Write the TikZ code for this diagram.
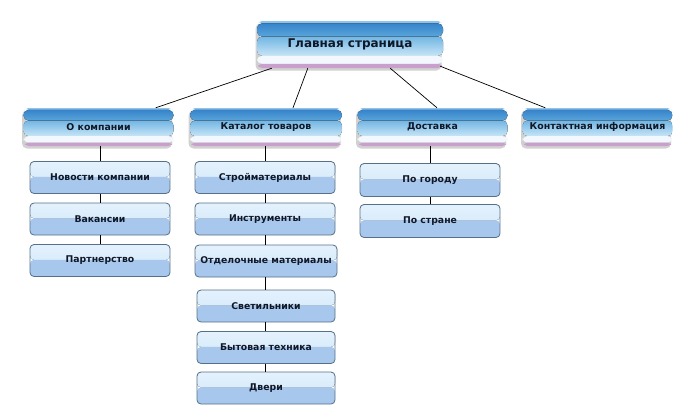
\documentclass[tikz,border=0pt]{standalone}
\usepackage{fontspec}
\setmainfont{DejaVu Sans}
\usetikzlibrary{calc,shadows}
\definecolor{hTop}{HTML}{8CC4EC}
\definecolor{hDarkA}{HTML}{3784CB}
\definecolor{hDarkB}{HTML}{5AA5DA}
\definecolor{hMidA}{HTML}{72B6E4}
\definecolor{hMidB}{HTML}{C8E5F6}
\definecolor{hWhite}{HTML}{F2F8FD}
\definecolor{hPink}{HTML}{C9A0CC}
\definecolor{cTopA}{HTML}{E4F2FD}
\definecolor{cTopB}{HTML}{CFE5F8}
\definecolor{cBot}{HTML}{A8C7EC}
\definecolor{cBord}{HTML}{56708A}
\definecolor{txt}{HTML}{101828}
\newcommand\hband[3]{\fill[#3] ($(path picture bounding box.north west)!#1!(path picture bounding box.south west)$) rectangle ($(path picture bounding box.north east)!#2!(path picture bounding box.south east)$);}
\tikzset{
  hdrbands/.style={path picture={
      \hband{-0.01}{0.05}{fill=hTop}
      \hband{0.05}{0.33}{top color=hDarkA, bottom color=hDarkB}
      \hband{0.33}{0.74}{top color=hMidA, bottom color=hMidB}
      \hband{0.74}{0.91}{fill=hWhite}
      \hband{0.91}{1.01}{fill=hPink}
  }},
  hdrbox/.style={hdrbands, rounded corners=5pt, minimum width=150pt, minimum height=38pt,
      inner sep=0pt, text=txt, font=\bfseries\fontsize{9.4}{11}\selectfont,
      drop shadow={shadow xshift=-1.5pt, shadow yshift=-2.5pt, fill=black, opacity=0.18}},
  mainbox/.style={hdrbox, minimum width=186pt, minimum height=47pt, font=\bfseries\fontsize{12}{14}\selectfont},
  childbox/.style={draw=cBord, line width=0.8pt, rounded corners=4pt, minimum width=140pt,
      minimum height=32pt, inner sep=0pt, text=txt, font=\bfseries\fontsize{9.3}{11}\selectfont,
      path picture={
        \hband{-0.01}{0.48}{top color=cTopA, bottom color=cTopB}
        \hband{0.48}{1.01}{fill=cBot}
      }},
  conn/.style={draw=black, line width=0.7pt},
}
\begin{document}
\begin{tikzpicture}[x=1pt,y=-1pt]
\useasboundingbox (0,0) rectangle (700,418);
\node[mainbox] (main) at (350,44.5) {Главная страница};
\node[hdrbox] (okomp) at (98.5,127) {О компании};
\node[hdrbox, minimum width=152pt] (katal) at (266,127) {Каталог товаров};
\node[hdrbox] (dost) at (432.5,127) {Доставка};
\node[hdrbox] (kont) at (597.5,127) {Контактная информация};

\node[childbox] (nov) at (100,177.5) {\raisebox{-2pt}{Новости компании}};
\node[childbox] (vak) at (100,219) {\raisebox{-2pt}{Вакансии}};
\node[childbox] (part) at (100,260.5) {\raisebox{-2pt}{Партнерство}};

\node[childbox] (stroy) at (265,177.5) {\raisebox{-2pt}{Стройматериалы}};
\node[childbox] (instr) at (265,219) {\raisebox{-2pt}{Инструменты}};
\node[childbox, minimum width=142pt] (otdel) at (266,261) {\raisebox{-2pt}{Отделочные материалы}};
\node[childbox, minimum width=138pt] (svet) at (266,306) {\raisebox{-2pt}{Светильники}};
\node[childbox, minimum width=138pt] (byt) at (266,347.5) {\raisebox{-2pt}{Бытовая техника}};
\node[childbox, minimum width=138pt] (dveri) at (266,388) {\raisebox{-2pt}{Двери}};

\node[childbox, minimum height=33pt] (gorod) at (430,180) {\raisebox{-2pt}{По городу}};
\node[childbox, minimum height=33pt] (strana) at (430,221) {\raisebox{-2pt}{По стране}};

\draw[conn] ($(main.south west)+(15,0)$) -- ($(okomp.north east)+(-18,0)$);
\draw[conn] ($(main.south west)+(51,0)$) -- ($(katal.north)+(27,0)$);
\draw[conn] ($(main.south east)+(-53,0)$) -- ($(dost.north)+(4.5,0)$);
\draw[conn] ($(main.south east)+(-3,-2)$) -- ($(kont.north west)+(23,0)$);

\draw[conn] (okomp.south -| nov.north) -- (nov.north);
\draw[conn] (nov) -- (vak);
\draw[conn] (vak) -- (part);
\draw[conn] (katal.south -| stroy.north) -- (stroy.north);
\draw[conn] (stroy) -- (instr);
\draw[conn] (instr.south) -- (instr.south |- otdel.north);
\draw[conn] (instr.south |- otdel.south) -- (instr.south |- svet.north);
\draw[conn] (instr.south |- svet.south) -- (instr.south |- byt.north);
\draw[conn] (instr.south |- byt.south) -- (instr.south |- dveri.north);
\draw[conn] (dost.south -| gorod.north) -- (gorod.north);
\draw[conn] (gorod) -- (strana);
\end{tikzpicture}
\end{document}
